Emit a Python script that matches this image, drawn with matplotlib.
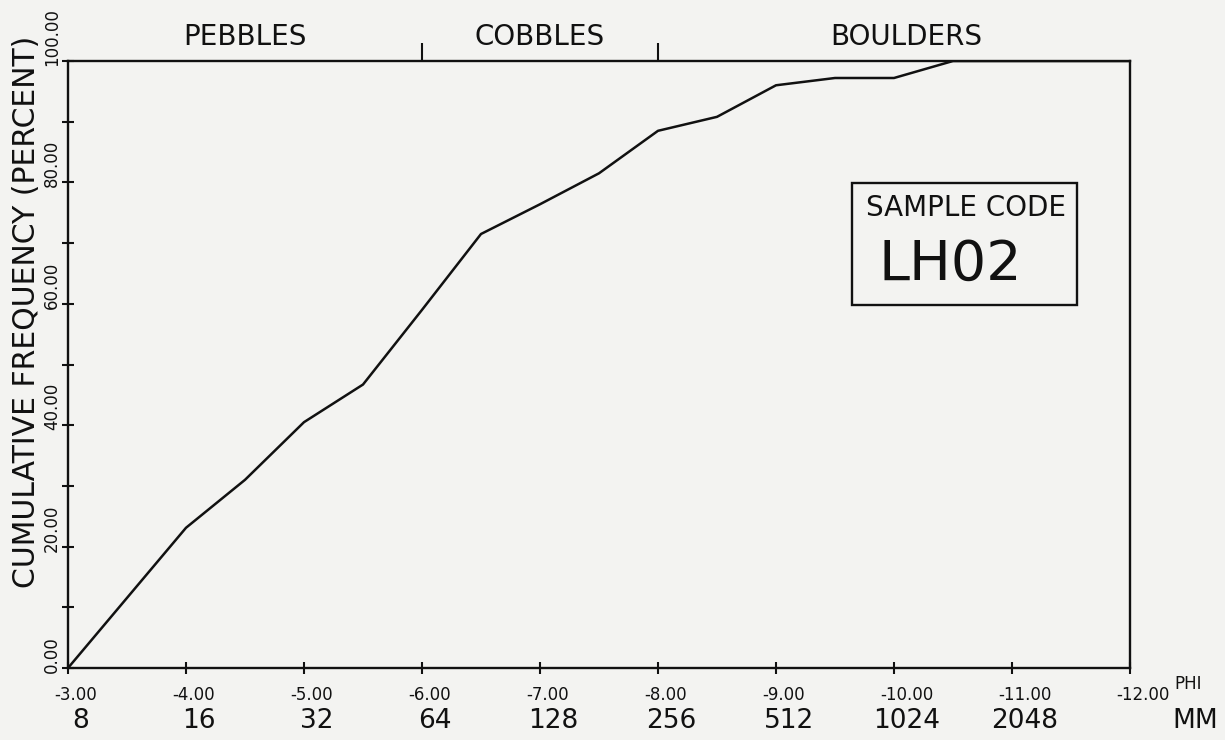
import matplotlib
matplotlib.use('Agg')
import matplotlib.pyplot as plt
import matplotlib.transforms as mtransforms
from matplotlib.patches import Rectangle

# cumulative grain size curve, sample LH02
phi = [-3.0, -4.0, -4.5, -5.0, -5.5, -6.0, -6.5, -7.0, -7.5, -8.0, -8.5, -9.0, -9.5, -10.0, -10.5, -12.0]
cum_pct = [0.0, 23.1, 31.0, 40.5, 46.7, 59.0, 71.5, 76.4, 81.5, 88.5, 90.8, 96.0, 97.2, 97.2, 100.0, 100.0]

phi_ticks = [-3, -4, -5, -6, -7, -8, -9, -10, -11, -12]
mm_labels = ['8', '16', '32', '64', '128', '256', '512', '1024', '2048']
pct_major = [0, 20, 40, 60, 80, 100]
pct_minor = [10, 30, 50, 70, 90]

classes = ['PEBBLES', 'COBBLES', 'BOULDERS']
class_pos = [-4.5, -7.0, -10.1]
class_bounds = [-6, -8]
sample_code = 'LH02'

bg = '#f3f3f1'
ink = '#111111'

fig = plt.figure(figsize=(12.25, 7.4), dpi=100, facecolor=bg)
ax = fig.add_axes([68 / 1225, 72 / 740, 1062 / 1225, 607 / 740])
ax.set_facecolor(bg)

ax.plot(phi, cum_pct, color=ink, lw=1.8)
ax.set_xlim(-3, -12)
ax.set_ylim(0, 100)

for s in ax.spines.values():
    s.set_color(ink)
    s.set_linewidth(1.7)

# bottom ticks: crosses, labels drawn by hand
ax.set_xticks(phi_ticks)
ax.set_xticklabels([])
ax.tick_params(axis='x', direction='inout', length=8, width=1.5, color=ink)

ax.set_yticks(pct_major)
ax.set_yticks(pct_minor, minor=True)
ax.set_yticklabels([f'{v:.2f}' for v in pct_major], rotation=90, va='bottom',
                   fontsize=12, color=ink)
ax.tick_params(axis='y', which='both', direction='inout', length=8, width=1.5,
               color=ink, pad=1)
down = mtransforms.ScaledTranslation(0, -5 / 100, fig.dpi_scale_trans)
for lab in ax.get_yticklabels():
    lab.set_transform(lab.get_transform() + down)

# class boundary marks above top spine
top = ax.secondary_xaxis('top')
top.set_xticks(class_bounds)
top.set_xticklabels([])
top.tick_params(direction='out', length=13, width=1.5, color=ink)
top.spines['top'].set_visible(False)

xt = ax.get_xaxis_transform()
off = mtransforms.ScaledTranslation(-14 / 100, 0, fig.dpi_scale_trans)
for v in phi_ticks:
    ax.text(v, -0.03, f'{v:.2f}', transform=xt + off, ha='left', va='top',
            fontsize=12, color=ink)
off2 = mtransforms.ScaledTranslation(13 / 100, 0, fig.dpi_scale_trans)
for v, lab in zip(phi_ticks, mm_labels):
    ax.text(v, -0.088, lab, transform=xt + off2, ha='center', va='center',
            fontsize=19, color=ink)
ax.text(-12, -0.027, 'PHI', transform=xt + mtransforms.ScaledTranslation(58 / 100, 0, fig.dpi_scale_trans),
        ha='center', va='center', fontsize=12, color=ink)
ax.text(-12, -0.088, 'MM', transform=xt + mtransforms.ScaledTranslation(65 / 100, 0, fig.dpi_scale_trans),
        ha='center', va='center', fontsize=19, color=ink)

for name, x in zip(classes, class_pos):
    ax.text(x, 1.04, name, transform=xt, ha='center', va='center',
            fontsize=20, color=ink)

fig.text(27 / 1225, 1 - 312 / 740, 'CUMULATIVE FREQUENCY (PERCENT)', rotation=90,
         ha='center', va='center', fontsize=21.5, color=ink)

# sample code box
ax.add_patch(Rectangle((0.738, 0.598), 0.212, 0.201, transform=ax.transAxes,
                       fill=False, edgecolor=ink, lw=1.7))
ax.text(0.8456, 0.758, 'SAMPLE CODE', transform=ax.transAxes, ha='center',
        va='center', fontsize=20, color=ink)
ax.text(0.8305, 0.664, sample_code, transform=ax.transAxes, ha='center',
        va='center', fontsize=40, color=ink)

fig.savefig('out.png', dpi=100, facecolor=bg)
